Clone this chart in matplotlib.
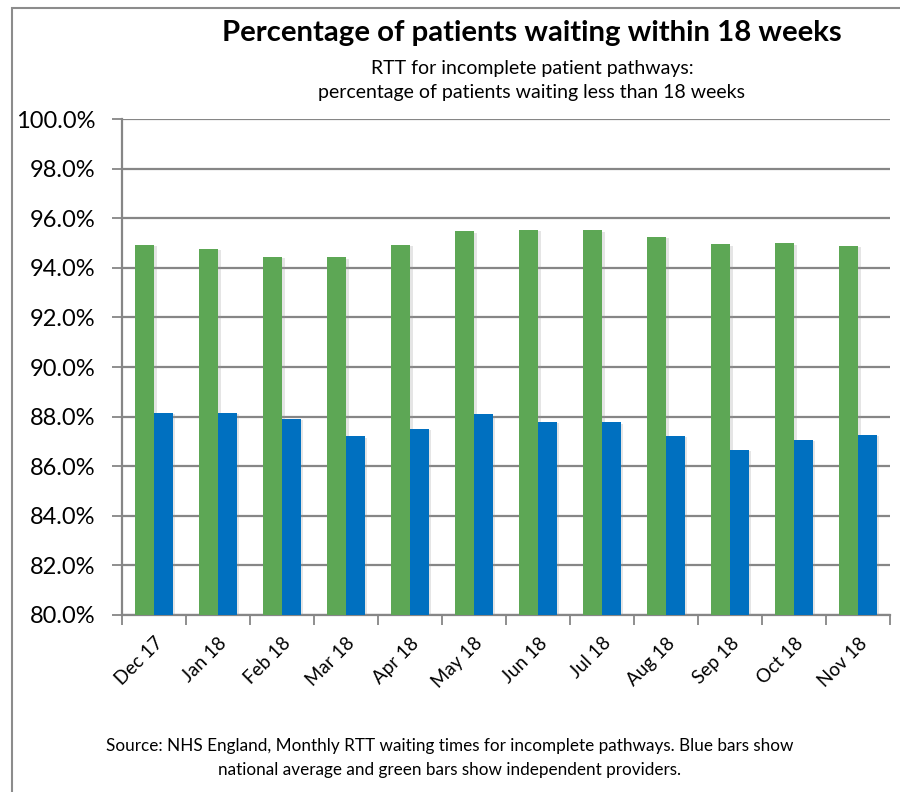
import numpy as np
import matplotlib
matplotlib.use("Agg")
import matplotlib.pyplot as plt
from matplotlib.patches import Rectangle
from matplotlib.ticker import FuncFormatter
import matplotlib.patheffects as pe

months = ["Dec 17", "Jan 18", "Feb 18", "Mar 18", "Apr 18", "May 18",
          "Jun 18", "Jul 18", "Aug 18", "Sep 18", "Oct 18", "Nov 18"]
independent = [94.92, 94.77, 94.45, 94.43, 94.93, 95.47,
               95.54, 95.52, 95.24, 94.95, 94.99, 94.88]
national = [88.16, 88.16, 87.90, 87.21, 87.51, 88.09,
            87.79, 87.77, 87.22, 86.65, 87.06, 87.26]

plt.rcParams['font.family'] = ['Lato', 'DejaVu Sans']

fig = plt.figure(figsize=(9, 7.92), dpi=100)
ax = fig.add_axes([0.1356, 0.2235, 0.8533, 0.6262])

x = np.arange(len(months))
w = 0.29
shadow = [pe.SimplePatchShadow(offset=(2, -1), shadow_rgbFace='#999999', alpha=0.25), pe.Normal()]
ax.bar(x - w / 2, [v - 80 for v in independent], w, bottom=80, color='#5da755',
       zorder=3, path_effects=shadow)
ax.bar(x + w / 2, [v - 80 for v in national], w, bottom=80, color='#0070c0',
       zorder=3, path_effects=shadow)

ax.set_xlim(-0.5, len(months) - 0.5)
ax.set_ylim(80, 100)
ax.set_yticks(np.arange(80, 100.1, 2))
ax.yaxis.set_major_formatter(FuncFormatter(lambda v, p: f"{v:.1f}%"))
ax.grid(axis='y', color='#868686', linewidth=1.6, zorder=0)
ax.tick_params(axis='y', length=7, width=1.3, color='#868686', labelsize=17, pad=12)

ax.set_xticks(x)
ax.set_xticklabels(months, rotation=45, ha='right', rotation_mode='anchor', fontsize=13.5)
ax.set_xticks(np.arange(-0.5, len(months), 1), minor=True)
ax.tick_params(axis='x', which='major', length=0, pad=14)
ax.tick_params(axis='x', which='minor', length=7, width=1.3, color='#868686')

for s in ['top', 'right']:
    ax.spines[s].set_visible(False)
for s in ['left', 'bottom']:
    ax.spines[s].set_color('#868686')
    ax.spines[s].set_linewidth(1.6)

fig.text(0.591, 0.958, "Percentage of patients waiting within 18 weeks",
         ha='center', va='center', fontsize=21.2, fontweight='bold')
fig.text(0.591, 0.914, "RTT for incomplete patient pathways:",
         ha='center', va='center', fontsize=14)
fig.text(0.591, 0.883, "percentage of patients waiting less than 18 weeks",
         ha='center', va='center', fontsize=14)
fig.text(0.5, 0.058, "Source: NHS England, Monthly RTT waiting times for incomplete pathways. Blue bars show",
         ha='center', va='center', fontsize=12.3)
fig.text(0.5, 0.028, "national average and green bars show independent providers.",
         ha='center', va='center', fontsize=12.3)

fig.patches.append(Rectangle((12 / 900, -0.05), 1.0, 1 - 8 / 792 + 0.05,
                             transform=fig.transFigure, fill=False,
                             edgecolor='#8c8c8c', linewidth=1.5))

fig.savefig("out.png", dpi=100)
